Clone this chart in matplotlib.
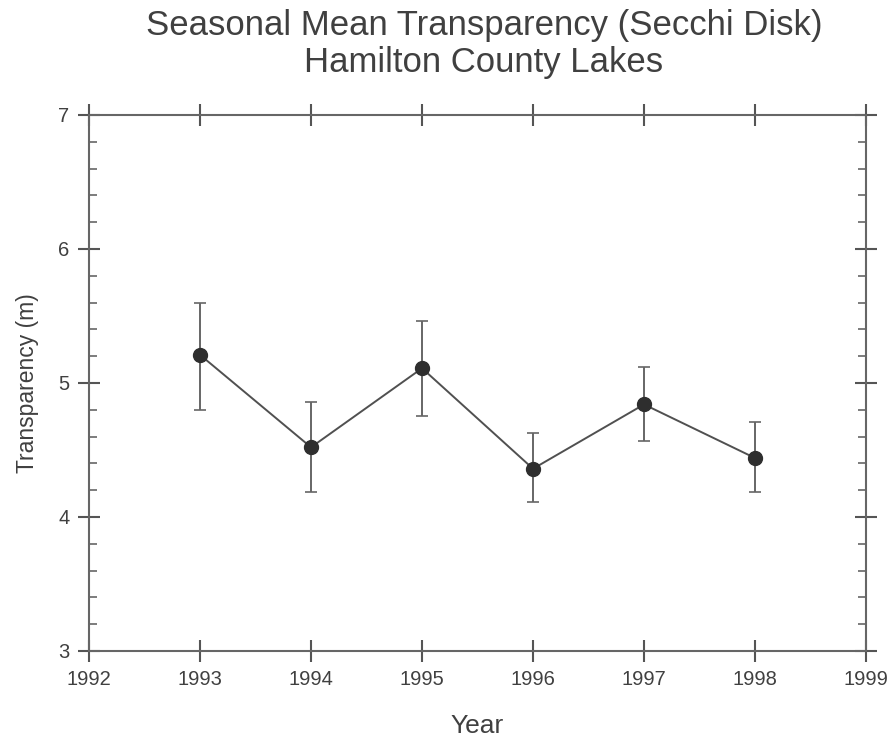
import numpy as np
import matplotlib.pyplot as plt
from matplotlib.ticker import MultipleLocator

plt.rcParams['font.family'] = ['Liberation Sans', 'DejaVu Sans']

years = [1993, 1994, 1995, 1996, 1997, 1998]
mean_depth = [5.21, 4.52, 5.11, 4.36, 4.84, 4.44]
err_high = [5.60, 4.86, 5.46, 4.63, 5.12, 4.71]
err_low = [4.80, 4.19, 4.75, 4.11, 4.57, 4.19]

x_ticks = [1992, 1993, 1994, 1995, 1996, 1997, 1998, 1999]
y_ticks = [3, 4, 5, 6, 7]

mean = np.array(mean_depth)
yerr = [mean - np.array(err_low), np.array(err_high) - mean]

fig = plt.figure(figsize=(8.93, 7.4), dpi=100)
ax = fig.add_axes([0.0997, 0.1203, 0.8701, 0.7243])

ax.errorbar(years, mean, yerr=yerr, fmt='o-', color='#505050', ecolor='#666666',
            mfc='#2e2e2e', mec='#2e2e2e', ms=10, lw=1.4, elinewidth=1.4,
            capsize=4, capthick=1.2)

ax.set_xlim(1992, 1999)
ax.set_ylim(3, 7)
ax.set_xticks(x_ticks)
ax.set_yticks(y_ticks)
ax.yaxis.set_minor_locator(MultipleLocator(0.2))

for s in ax.spines.values():
    s.set_color('#666666')
    s.set_linewidth(1.5)

ax.tick_params(axis='both', which='major', direction='inout', length=16, width=1.5,
               color='#555555', labelsize=14.5, labelcolor='#404040',
               top=True, right=True)
ax.tick_params(axis='x', pad=6)
ax.tick_params(axis='y', pad=6)
ax.tick_params(axis='y', which='minor', direction='in', length=6, width=1.2,
               color='#666666', left=True, right=True)

ax.set_xlabel('Year', fontsize=19, color='#404040', labelpad=18)
ax.set_ylabel('Transparency (m)', fontsize=16.5, color='#404040', labelpad=14)

fig.text(0.542, 0.966, 'Seasonal Mean Transparency (Secchi Disk)', ha='center', va='center',
         fontsize=25, color='#404040')
fig.text(0.542, 0.916, 'Hamilton County Lakes', ha='center', va='center',
         fontsize=25, color='#404040')

fig.savefig('out.png', dpi=100)
